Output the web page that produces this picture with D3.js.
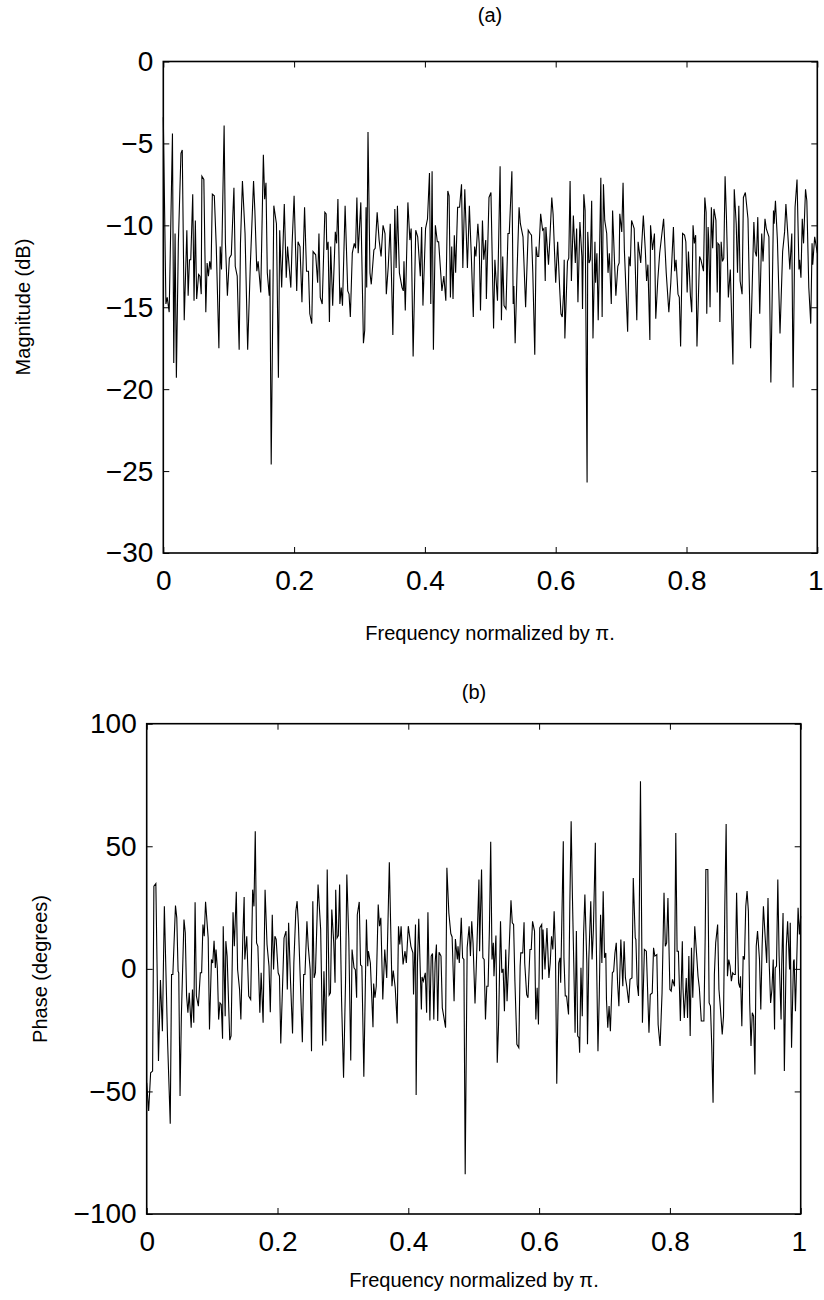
<!DOCTYPE html>
<html>
  <head>
    <title>Magnitude and phase response</title>
    <style>
      body,
      html {
        margin: 0;
        padding: 0;
        background: #fff;
      }
      text {
        font-family: 'Liberation Sans', Arial, sans-serif;
        fill: #000;
      }
    </style>
  </head>
  <body>
    <svg id="svg" width="824" height="1300"></svg>
    <script src="https://cdn.jsdelivr.net/npm/d3@7"></script>
    <script>
      // panel (a): magnitude in dB, vertices
      const freqA = [
        0.000, 0.004, 0.006, 0.009, 0.014, 0.016, 0.018, 0.020, 0.023, 0.027, 0.029, 0.032, 0.036, 0.038, 0.040, 0.042,
        0.045, 0.047, 0.049, 0.051, 0.054, 0.056, 0.058, 0.059, 0.062, 0.065, 0.067, 0.069, 0.071, 0.073, 0.075, 0.078,
        0.081, 0.085, 0.087, 0.089, 0.093, 0.095, 0.098, 0.101, 0.104, 0.108, 0.110, 0.113, 0.116, 0.118, 0.121, 0.125,
        0.129, 0.133, 0.138, 0.140, 0.143, 0.145, 0.149, 0.153, 0.155, 0.157, 0.159, 0.162, 0.163, 0.165, 0.169, 0.173,
        0.176, 0.178, 0.181, 0.185, 0.188, 0.190, 0.195, 0.197, 0.200, 0.204, 0.206, 0.209, 0.212, 0.216, 0.219, 0.222,
        0.224, 0.227, 0.229, 0.233, 0.236, 0.238, 0.240, 0.243, 0.247, 0.249,
        0.250, 0.252, 0.254, 0.256, 0.259, 0.263, 0.265, 0.267, 0.270, 0.272, 0.274, 0.278, 0.282, 0.284, 0.286, 0.289,
        0.292, 0.294, 0.296, 0.298, 0.302, 0.306, 0.308, 0.310, 0.311, 0.313, 0.316, 0.318, 0.322, 0.324, 0.327, 0.330,
        0.333, 0.336, 0.339, 0.341, 0.344, 0.347, 0.351, 0.354, 0.356, 0.358, 0.361, 0.365, 0.367, 0.368, 0.370, 0.374,
        0.377, 0.379, 0.382, 0.386, 0.389, 0.393, 0.395, 0.397, 0.401, 0.404, 0.407, 0.409, 0.411, 0.413, 0.416, 0.419,
        0.421, 0.426, 0.429, 0.432, 0.435, 0.437, 0.439, 0.441, 0.443, 0.445, 0.447, 0.450, 0.453, 0.456, 0.458, 0.461,
        0.465, 0.468, 0.471, 0.474, 0.476, 0.478, 0.481, 0.483, 0.485, 0.488, 0.490, 0.493, 0.494, 0.498, 0.501,
        0.505, 0.507, 0.509, 0.511, 0.515, 0.517, 0.519, 0.521, 0.524, 0.527, 0.529, 0.533, 0.535, 0.536, 0.538, 0.541,
        0.544, 0.546, 0.550, 0.554, 0.558, 0.561, 0.563, 0.565, 0.568, 0.570, 0.572, 0.574, 0.577, 0.580, 0.582, 0.584,
        0.585, 0.589, 0.591, 0.594, 0.596, 0.600, 0.603, 0.606, 0.608, 0.610, 0.612, 0.613, 0.614, 0.618, 0.620, 0.622,
        0.624, 0.627, 0.630, 0.632, 0.634, 0.637, 0.640, 0.641, 0.643, 0.645, 0.648, 0.649, 0.651, 0.653, 0.655, 0.657,
        0.660, 0.661, 0.663, 0.665, 0.667, 0.669, 0.671, 0.673, 0.675, 0.678, 0.680, 0.682, 0.685, 0.687, 0.690, 0.692,
        0.695, 0.697, 0.698, 0.701, 0.703, 0.705, 0.710, 0.712, 0.714, 0.716, 0.720, 0.724, 0.726, 0.730, 0.734, 0.737,
        0.739, 0.741, 0.744, 0.745, 0.748, 0.751, 0.753,
        0.756, 0.759, 0.765, 0.769, 0.773, 0.776, 0.780, 0.782, 0.784, 0.787, 0.789, 0.791, 0.794, 0.797, 0.799, 0.801,
        0.803, 0.806, 0.808, 0.810, 0.812, 0.814, 0.816, 0.820, 0.822, 0.826, 0.828, 0.830, 0.831, 0.833, 0.834, 0.836,
        0.838, 0.840, 0.842, 0.845, 0.847, 0.848, 0.850, 0.851, 0.853, 0.855, 0.857, 0.859, 0.861, 0.864, 0.867, 0.871,
        0.873, 0.876, 0.878, 0.880, 0.882, 0.885, 0.887, 0.890, 0.894, 0.898, 0.903, 0.905, 0.907, 0.909, 0.912, 0.915,
        0.917, 0.920, 0.922, 0.926, 0.929, 0.933, 0.934, 0.936, 0.939, 0.943, 0.947, 0.950, 0.952, 0.955, 0.958, 0.961,
        0.963, 0.966, 0.969, 0.972, 0.973, 0.975, 0.977, 0.979, 0.982, 0.984, 0.987, 0.990, 0.992, 0.993, 0.996, 1.000
      ];
      const magA = [
        -3.4, -14.8, -14.4, -15.3, -4.4, -18.4, -10.5, -19.3, -11.1, -5.6, -5.4, -15.8, -10.3, -14.3, -12.1, -12.1,
        -8.1, -14.6, -9.7, -14.5, -13.0, -13.1, -14.2, -7.0, -7.2, -15.3, -12.3, -13.1, -12.2, -12.7, -8.1, -8.2,
        -11.3, -17.5, -11.3, -12.7, -3.9, -11.1, -14.3, -12.0, -11.8, -7.7, -12.5, -13.1, -17.6, -11.1, -7.3, -10.5,
        -17.6, -12.5, -7.3, -9.1, -12.8, -12.2, -14.1, -5.7, -8.4, -7.4, -12.9, -14.3, -12.7, -24.6, -8.8, -9.9,
        -19.3, -10.3, -13.8, -8.7, -13.2, -11.3, -13.8, -11.1, -8.2, -14.0, -11.0, -11.3, -14.7, -8.9, -12.8, -12.8,
        -15.4, -16.0, -11.6, -11.8, -13.5, -10.5, -14.4, -14.8, -9.2, -9.3,
        -11.5, -11.0, -15.9, -11.3, -14.9, -10.4, -11.1, -8.4, -14.8, -13.8, -14.9, -8.8, -14.0, -14.2, -15.6, -11.7,
        -11.1, -11.4, -8.3, -11.7, -8.6, -17.2, -16.4, -8.9, -13.8, -4.3, -12.9, -13.6, -11.5, -11.4, -9.2, -10.9,
        -11.9, -10.0, -10.5, -14.2, -12.5, -9.9, -16.7, -9.0, -12.6, -8.8, -12.9, -13.8, -14.0, -12.2, -15.2, -8.6,
        -10.9, -10.2, -18.0, -10.3, -10.7, -13.1, -10.1, -14.9, -10.2, -9.6, -6.8, -14.8, -6.7, -17.6, -10.0, -11.0,
        -11.0, -14.0, -13.1, -14.6, -7.9, -8.2, -14.4, -11.3, -14.5, -10.6, -12.9, -8.9, -8.9, -7.5, -12.6, -7.8,
        -12.6, -8.8, -11.9, -15.6, -11.3, -11.9, -9.9, -11.1, -15.2, -9.7, -12.1, -10.9, -14.5, -8.3, -8.0,
        -16.3, -12.1, -13.4, -14.6, -6.4, -15.8, -11.9, -14.9, -15.1, -10.5, -10.5, -6.7, -14.8, -13.7, -17.2, -12.7,
        -8.9, -9.9, -10.7, -15.0, -10.3, -10.5, -10.6, -12.9, -17.9, -11.3, -11.9, -11.9, -9.3, -10.3, -10.2, -13.4,
        -10.1, -12.4, -10.9, -8.3, -9.3, -13.5, -11.0, -13.8, -15.4, -15.6, -14.2, -12.1, -16.9, -12.2, -12.0, -7.3,
        -13.4, -9.4, -12.3, -10.2, -14.7, -9.8, -11.9, -15.1, -8.1, -9.1, -25.7, -10.4, -12.3, -12.1, -8.5, -16.9,
        -11.0, -13.5, -11.7, -15.8, -11.7, -7.1, -15.6, -7.5, -9.7, -10.5, -12.9, -11.7, -14.8, -9.1, -12.3, -14.3,
        -12.5, -12.3, -9.3, -10.4, -7.4, -11.5, -16.5, -11.9, -12.5, -9.7, -10.2, -15.8, -11.0, -12.3, -9.4, -11.5,
        -13.4, -12.4, -17.0, -10.0, -11.5, -10.5, -15.7,
        -13.4, -11.7, -9.6, -12.9, -15.3, -13.5, -10.1, -12.8, -12.1, -14.2, -14.4, -17.4, -10.5, -10.6, -11.0, -14.1,
        -11.6, -14.3, -15.3, -10.0, -11.1, -10.6, -17.4, -11.9, -12.1, -12.8, -8.3, -9.2, -15.4, -10.1, -10.9, -15.0,
        -8.9, -11.4, -9.0, -9.7, -14.1, -11.1, -11.2, -15.9, -11.0, -12.2, -12.0, -7.0, -9.4, -14.4, -12.7, -18.5,
        -7.8, -9.9, -12.9, -8.8, -13.4, -14.2, -8.3, -8.0, -9.6, -17.5, -9.8, -11.6, -11.9, -9.5, -15.4, -10.5,
        -12.2, -9.6, -10.2, -10.7, -19.6, -9.1, -9.9, -8.5, -10.9, -16.6, -11.6, -10.4, -8.7, -10.6, -12.7, -10.5,
        -19.9, -8.9, -7.2, -12.7, -12.1, -13.2, -9.6, -11.1, -7.8, -8.5, -13.8, -16.0, -11.1, -12.4, -10.7, -11.7
      ];

      // panel (b): phase in degrees, vertices
      const freqB = [
        0.000, 0.003, 0.006, 0.009, 0.011, 0.014, 0.018, 0.021, 0.024, 0.027, 0.032, 0.036, 0.038, 0.040, 0.044, 0.046,
        0.048, 0.049, 0.051, 0.053, 0.057, 0.059, 0.061, 0.063, 0.065, 0.068, 0.070, 0.072, 0.074, 0.076, 0.079, 0.082,
        0.084, 0.086, 0.088, 0.090, 0.094, 0.096, 0.099, 0.101, 0.103, 0.105, 0.106, 0.108, 0.110, 0.112, 0.114, 0.116,
        0.117, 0.120, 0.121, 0.123, 0.127, 0.129, 0.132, 0.134, 0.137, 0.139, 0.142, 0.144, 0.147, 0.149, 0.150, 0.153,
        0.156, 0.159, 0.162, 0.164, 0.166, 0.168, 0.170, 0.173, 0.175, 0.178, 0.181, 0.184, 0.187, 0.189, 0.192, 0.194,
        0.196, 0.198, 0.201, 0.203, 0.205, 0.210, 0.213, 0.215, 0.217, 0.220, 0.223, 0.225, 0.228, 0.230, 0.232, 0.235,
        0.238, 0.240, 0.242,
        0.245, 0.247, 0.250, 0.252, 0.254, 0.256, 0.258, 0.262, 0.266, 0.269, 0.271, 0.274, 0.276, 0.279, 0.281, 0.283,
        0.286, 0.288, 0.289, 0.291, 0.293, 0.295, 0.298, 0.301, 0.304, 0.306, 0.309, 0.312, 0.314, 0.317, 0.319, 0.321,
        0.322, 0.325, 0.327, 0.329, 0.332, 0.336, 0.338, 0.339, 0.342, 0.346, 0.347, 0.349, 0.351, 0.354, 0.356, 0.358,
        0.361, 0.364, 0.367, 0.371, 0.375, 0.377, 0.380, 0.383, 0.385, 0.387, 0.389, 0.392, 0.395, 0.397, 0.400, 0.404,
        0.407, 0.408, 0.411, 0.412, 0.414, 0.416, 0.420, 0.421, 0.423, 0.426, 0.428, 0.430, 0.433, 0.435, 0.437, 0.439,
        0.441, 0.443, 0.445, 0.447, 0.450, 0.452, 0.455, 0.457, 0.459, 0.462, 0.465, 0.467, 0.470, 0.472, 0.475, 0.476,
        0.478, 0.481, 0.483, 0.485, 0.487, 0.490, 0.493, 0.495,
        0.497, 0.499, 0.502, 0.504, 0.508, 0.509, 0.512, 0.514, 0.516, 0.518, 0.520, 0.522, 0.524, 0.526, 0.528, 0.530,
        0.531, 0.534, 0.536, 0.538, 0.541, 0.543, 0.545, 0.547, 0.549, 0.551, 0.553, 0.557, 0.559, 0.561, 0.563, 0.566,
        0.569, 0.571, 0.572, 0.575, 0.577, 0.578, 0.581, 0.583, 0.586, 0.588, 0.590, 0.593, 0.595, 0.597, 0.599, 0.601,
        0.604, 0.605, 0.606, 0.609, 0.612, 0.615, 0.617, 0.619, 0.621, 0.623, 0.625, 0.627, 0.630, 0.632, 0.633, 0.637,
        0.638, 0.640, 0.642, 0.645, 0.647, 0.649, 0.651, 0.653, 0.655, 0.657, 0.659, 0.661, 0.662, 0.664, 0.666, 0.668,
        0.670, 0.673, 0.674, 0.676, 0.679, 0.681, 0.683, 0.686, 0.687, 0.690, 0.692, 0.694, 0.696, 0.698, 0.700, 0.702,
        0.703, 0.705, 0.707, 0.709, 0.712, 0.714, 0.716, 0.718, 0.720, 0.722, 0.725, 0.728, 0.730, 0.732, 0.734, 0.737,
        0.739, 0.742, 0.744, 0.747,
        0.748, 0.750, 0.752, 0.755, 0.758, 0.761, 0.764, 0.768, 0.770, 0.773, 0.775, 0.777, 0.780, 0.782, 0.785, 0.788,
        0.791, 0.793, 0.795, 0.797, 0.800, 0.802, 0.804, 0.807, 0.809, 0.811, 0.813, 0.816, 0.819, 0.820, 0.822, 0.825,
        0.827, 0.829, 0.831, 0.833, 0.835, 0.838, 0.841, 0.843, 0.845, 0.848, 0.852, 0.854, 0.855, 0.858, 0.860, 0.862,
        0.864, 0.866, 0.868, 0.870, 0.873, 0.875, 0.877, 0.880, 0.882, 0.884, 0.886, 0.888, 0.890, 0.892, 0.894, 0.896,
        0.898, 0.900, 0.902, 0.905, 0.907, 0.908, 0.910, 0.912, 0.914, 0.916, 0.918, 0.920, 0.922, 0.924, 0.926, 0.928,
        0.930, 0.932, 0.934, 0.937, 0.939, 0.941, 0.943, 0.945, 0.948, 0.950, 0.952, 0.954, 0.956, 0.958, 0.960, 0.961,
        0.963, 0.965, 0.967, 0.970, 0.971, 0.973, 0.975, 0.978, 0.980, 0.983, 0.984, 0.986, 0.989, 0.990, 0.992, 0.994,
        0.996, 0.998, 1.000
      ];
      const phaseB = [
        -46.5, -58.0, -42.4, -41.7, 33.7, 34.8, -37.6, -4.6, -25.4, 25.5, -30.2, -63.2, -2.3, -2.3, 25.8, 20.8,
        -1.0, -1.6, -51.9, -19.3, 20.1, 14.7, -11.1, -17.9, -9.8, -24.0, -8.4, -22.0, 27.2, -11.1, -15.2, -1.6,
        -1.6, 18.1, 13.3, 27.4, 12.6, -24.7, 3.8, 2.4, 11.5, 0.4, 7.9, 0.4, -20.7, -13.9, -14.5, -28.5,
        17.4, -19.3, 11.3, 5.2, -29.1, -27.4, 23.1, 9.2, 31.4, -0.3, -8.4, -20.7, 13.3, 29.3, 3.8, 13.3,
        -11.1, -12.5, 32.3, 25.5, 56.1, 10.6, 9.2, -17.9, -1.6, -22.0, 32.3, 9.9, 1.1, -17.7, 22.1, -0.3,
        13.3, 12.0, -1.6, -3.0, -30.4, 12.6, 15.4, -8.4, 18.8, -5.7, -26.4, 2.4, 23.5, 27.6, 18.1, -5.7,
        -29.9, -2.3, -2.3,
        19.4, 9.2, -0.3, -33.6, 27.6, -3.7, -1.6, 34.4, 16.0, -31.3, -1.0, -29.5, 40.5, -10.7, -9.8, 24.2,
        10.6, -5.7, 32.3, 12.6, 13.6, 34.4, -13.2, -44.4, -5.7, 38.5, 12.6, -37.4, 7.9, 0.4, -0.3, -11.8,
        22.1, 27.3, 1.6, 1.1, -44.0, 20.1, 1.1, 7.2, 2.4, -23.8, -6.0, -11.8, -7.1, 26.2, 17.4, 20.8,
        -12.5, 7.9, -3.7, 43.5, -7.1, -0.7, -7.7, -22.3, 17.4, 9.9, 17.4, 1.8, 7.2, 2.4, 17.4, 9.2,
        6.5, -10.5, 18.1, -51.5, 2.4, 20.4, -16.6, -3.3, -5.0, -1.6, -17.9, 23.1, -21.1, 5.2, 6.3, -20.7,
        2.4, 9.9, -21.3, 6.8, 5.2, -15.9, -20.7, -24.0, 41.2, 22.8, 14.4, 13.0, -13.2, 12.2, 3.8, 9.2,
        2.4, 20.8, 4.5, 3.8, -83.8, 8.6, 17.4, 5.2,
        19.4, 10.6, -14.1, 1.1, 36.4, 7.2, 40.5, 4.5, 3.8, -20.7, -7.1, -7.1, 16.0, 51.8, 3.8, 10.6,
        -3.0, 13.6, -38.3, -22.7, 19.4, -1.6, 0.0, -17.3, 7.9, -13.2, -0.3, 28.0, 18.8, 18.1, -5.0, -30.8,
        -32.2, 1.1, 6.5, 6.5, 19.0, 2.4, -10.5, -11.8, 7.9, 7.9, 19.4, 15.4, -20.7, -7.7, -22.7, 16.7,
        18.1, -4.3, 16.0, -0.3, 16.7, -3.7, 2.4, 13.3, 7.9, 23.5, 7.9, -46.9, 2.4, 4.5, -5.7, 52.0,
        4.5, -11.1, -11.1, -18.6, 26.9, 60.2, 28.9, 2.4, -26.1, 15.4, -27.4, -28.1, -34.2, 0.4, -19.3, 14.0,
        30.3, 2.4, -30.8, 3.8, 27.6, 3.8, 16.0, 51.4, 18.8, -33.6, -11.1, 22.1, 2.4, 31.7, 4.5, 6.5,
        -12.5, -24.0, -15.2, -25.4, -1.6, -1.0, 6.5, 10.6, -5.7, -15.2, 12.0, -7.1, 11.3, -3.7, -7.1, -13.9,
        -4.3, -3.7, 37.1, 12.6,
        12.0, -6.4, -11.1, 76.5, -22.0, 7.9, 7.2, -26.1, -10.5, -9.8, 8.6, 5.2, 5.8, -22.7, -31.5, -9.8,
        31.0, 9.2, 10.6, 28.9, -8.4, -9.1, -4.3, -7.1, 55.4, 7.2, 7.2, -21.3, 11.3, -7.7, -20.0, -3.7,
        -20.0, 5.2, -27.4, 8.6, -11.8, 17.4, 5.2, -3.0, -7.7, -21.3, -21.3, 14.0, 40.5, 40.5, -13.9, -15.2,
        -31.5, -54.6, -2.3, 10.6, 18.1, -8.4, -15.2, -26.8, -19.3, 26.2, 59.1, -3.0, 3.8, 1.1, -5.0, -1.6,
        -2.3, -2.3, 31.0, -5.7, -7.7, -3.0, -23.4, 5.2, 3.8, 25.5, 31.7, 23.5, -13.9, -31.5, -17.9, -19.3,
        -43.1, 9.2, 15.4, 3.8, -16.6, 9.2, 25.5, 16.0, 2.4, 28.9, 1.1, -13.9, -8.4, 3.8, -24.7, 0.4,
        1.1, 36.4, 5.2, -20.7, 1.8, 22.8, -41.7, 9.2, 19.4, -0.3, 18.8, -32.2, 3.1, 3.8, -17.3, 3.8,
        24.9, 14.0, 21.5
      ];

      const xTicks = [0, 0.2, 0.4, 0.6, 0.8, 1];
      const magTicks = [0, -5, -10, -15, -20, -25, -30];
      const phaseTicks = [100, 50, 0, -50, -100];

      const svg = d3.select('#svg');
      const tickLen = 6;

      function drawPanel(opts) {
        const { left, right, top, bottom, yDomain, yTicks, freq, vals } = opts;
        const x = d3.scaleLinear().domain([0, 1]).range([left, right]);
        const y = d3.scaleLinear().domain(yDomain).range([bottom, top]);
        const g = svg.append('g');

        const line = d3
          .line()
          .x((d) => x(d[0]))
          .y((d) => y(d[1]));
        g.append('path')
          .datum(freq.map((f, i) => [f, vals[i]]))
          .attr('d', line)
          .attr('fill', 'none')
          .attr('stroke', '#000')
          .attr('stroke-width', 1.1)
          .attr('stroke-linejoin', 'miter');

        // inward ticks on all four sides, like a boxed matlab axes
        const axB = d3.axisBottom(x).tickValues(xTicks).tickFormat(d3.format('~g'))
          .tickSizeInner(-tickLen).tickSizeOuter(0).tickPadding(17);
        const axT = d3.axisTop(x).tickValues(xTicks).tickFormat('')
          .tickSizeInner(-tickLen).tickSizeOuter(0);
        const axL = d3.axisLeft(y).tickValues(yTicks).tickFormat(d3.format('~g'))
          .tickSizeInner(-tickLen).tickSizeOuter(0).tickPadding(10);
        const axR = d3.axisRight(y).tickValues(yTicks).tickFormat('')
          .tickSizeInner(-tickLen).tickSizeOuter(0);

        [
          [axB, `translate(0,${bottom})`],
          [axT, `translate(0,${top})`],
          [axL, `translate(${left},0)`],
          [axR, `translate(${right},0)`]
        ].forEach(([ax, tr]) => {
          const a = g.append('g').attr('transform', tr).call(ax);
          a.select('.domain').remove();
          a.selectAll('line').attr('stroke', '#000').attr('stroke-width', 1);
          a.selectAll('text')
            .style('font-family', "'Liberation Sans', Arial, sans-serif")
            .attr('font-size', 28)
            .attr('fill', '#000');
        });
        // keep the last x label inside the page
        g.selectAll('text').filter((d) => d === 1).attr('dx', -2);

        g.append('rect')
          .attr('x', left)
          .attr('y', top)
          .attr('width', right - left)
          .attr('height', bottom - top)
          .attr('fill', 'none')
          .attr('stroke', '#000')
          .attr('stroke-width', 1.6);

        return { x, y };
      }

      drawPanel({
        left: 163.3, right: 817.3, top: 61.5, bottom: 553,
        yDomain: [-30, 0], yTicks: magTicks, freq: freqA, vals: magA
      });
      drawPanel({
        left: 146.7, right: 800.7, top: 723.7, bottom: 1214,
        yDomain: [-100, 100], yTicks: phaseTicks, freq: freqB, vals: phaseB
      });

      const labels = [
        { text: '(a)', x: 490, y: 22, rot: 0 },
        { text: 'Frequency normalized by π.', x: 490, y: 640, rot: 0 },
        { text: 'Magnitude (dB)', x: 30, y: 307, rot: -90 },
        { text: '(b)', x: 474, y: 699, rot: 0 },
        { text: 'Frequency normalized by π.', x: 474, y: 1287, rot: 0 },
        { text: 'Phase (degrees)', x: 47, y: 969, rot: -90 }
      ];
      svg
        .append('g')
        .selectAll('text')
        .data(labels)
        .enter()
        .append('text')
        .text((d) => d.text)
        .attr('text-anchor', 'middle')
        .attr('font-size', 20)
        .attr('transform', (d) => `translate(${d.x},${d.y}) rotate(${d.rot})`);
    </script>
  </body>
</html>
